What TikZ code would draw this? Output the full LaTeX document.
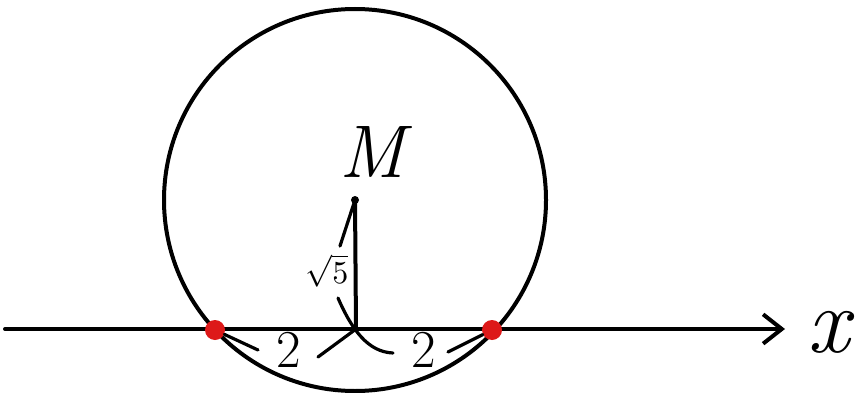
\documentclass[tikz,border=0pt]{standalone}
\usetikzlibrary{arrows.meta}
\begin{document}
\begin{tikzpicture}[x=0.75pt,y=-0.75pt,
  ink/.style={line width=3pt,line cap=round},
  thin ink/.style={line width=2.4pt,line cap=round},
  reddot/.style={circle,fill=red!85!black!90,inner sep=0pt,minimum size=15pt},
  lbl/.style={inner sep=1pt}]
\useasboundingbox (0,0) rectangle (855,392);
% coordinates
\coordinate (M) at (355,200);
\coordinate (O) at (356,329);
\coordinate (xs) at (5,329);
\coordinate (xe) at (785,329);
% circle
\draw[ink] (M) circle[radius=191];
% x axis
\draw[ink,-{Straight Barb[length=14pt,width=22pt,line width=3pt]}] (xs) -- (xe);
\node[lbl,font=\fontsize{70}{72}\selectfont\itshape] (xl) at (828,332) {x};
% radius segment
\draw[ink] (M) -- (O);
\fill (M) circle[radius=4];
\node[lbl,font=\fontsize{56}{58}\selectfont\itshape] (Ml) at (372,152) {M};
% red points
\node[reddot] (A) at (215,330) {};
\node[reddot] (B) at (492,330) {};
% labels
\node[lbl,scale=2.4] (s5) at (327,271) {$\sqrt{5}$};
\node[lbl,font=\fontsize{40}{42}\selectfont] (t1) at (289,350) {2};
\node[lbl,font=\fontsize{40}{42}\selectfont] (t2) at (424,350) {2};
% braces
\draw[thin ink] (M) -- (340,246);
\draw[thin ink] (338,298) .. controls (352,330) and (368,352) .. (393,353);
\draw[thin ink] (A) -- (258,350);
\draw[thin ink] (318,357) -- (O);
\draw[thin ink] (448,352) -- (B);
\end{tikzpicture}
\end{document}
